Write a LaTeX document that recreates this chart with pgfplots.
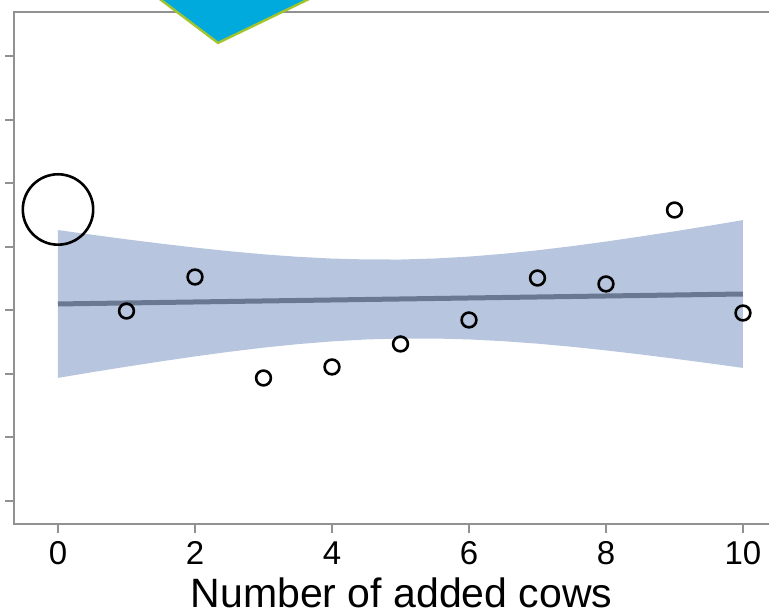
\documentclass[border=0pt]{standalone}
\usepackage{pgfplots}
\pgfplotsset{compat=1.18}
\usepackage{fontspec}
\setmainfont{Liberation Sans}
\definecolor{bandcol}{RGB}{183,198,222}
\definecolor{linecol}{RGB}{106,120,146}
\definecolor{axcol}{RGB}{145,145,145}
\definecolor{diacyan}{RGB}{0,170,221}
\definecolor{diagreen}{RGB}{163,196,44}
\begin{document}
\begin{tikzpicture}
\begin{axis}[
  x=34.25pt, y=31.75pt,
  xmin=-0.642, xmax=10.6, ymin=-0.367, ymax=7.696,
  clip=false,
  axis line style={axcol, line width=1.2pt},
  every tick/.style={axcol, line width=1.1pt},
  tick align=outside, tick pos=left, major tick length=4.5pt,
  xtick={0,2,...,10}, ytick={0,1,...,7}, yticklabels={},
  /pgf/number format/assume math mode=true,
  xticklabel style={font=\fontsize{16.5}{18}\selectfont, anchor=base, yshift=-16pt},
  xlabel={Number of added cows},
  xlabel style={font=\fontsize{20.5}{22}\selectfont, at={(axis description cs:0.5032,-0.1640)}, anchor=base},
]
% confidence band
\addplot[fill=bandcol, draw=none] coordinates {
 (0,4.262) (0.5,4.188) (1,4.116) (1.5,4.049) (2,3.986) (2.5,3.929) (3,3.880) (3.5,3.841) (4,3.813) (4.5,3.799) (5,3.798)
 (5.5,3.814) (6,3.844) (6.5,3.888) (7,3.943) (7.5,4.008) (8,4.081) (8.5,4.160) (9,4.242) (9.5,4.329) (10,4.419)
 (10,2.091) (9.5,2.165) (9,2.236) (8.5,2.304) (8,2.367) (7.5,2.424) (7,2.473) (6.5,2.512) (6,2.540) (5.5,2.554)
 (5,2.554) (4.5,2.539) (4,2.509) (3.5,2.465) (3,2.410) (2.5,2.345) (2,2.272) (1.5,2.193) (1,2.110) (0.5,2.024) (0,1.934)
};
% fitted line
\addplot[linecol, line width=2.5pt] coordinates {(0,3.098) (10,3.255)};
% observations
\addplot[only marks, mark=o, mark size=3.7pt, mark options={line width=1.3pt, black}] coordinates {
 (1,2.987) (2,3.523) (3,1.932) (4,2.106) (5,2.468) (6,2.846) (7,3.507) (8,3.413) (9,4.578) (10,2.956)
};
\addplot[only marks, mark=o, mark size=17.6pt, mark options={line width=1.3pt, black}] coordinates {(0,4.586)};
% diamond (cropped)
\addplot[fill=diacyan, draw=diagreen, line width=1.2pt] coordinates {
 (0.730,8.515) (2.336,7.209) (4.847,8.515) (3.241,9.775) (0.730,8.515)
};
\coordinate (bbsw) at (axis cs:-0.8467,-1.7685);
\coordinate (bbne) at (axis cs:10.380,7.885);
\end{axis}
\pgfresetboundingbox
\useasboundingbox (bbsw) rectangle (bbne);
\end{tikzpicture}
\end{document}
